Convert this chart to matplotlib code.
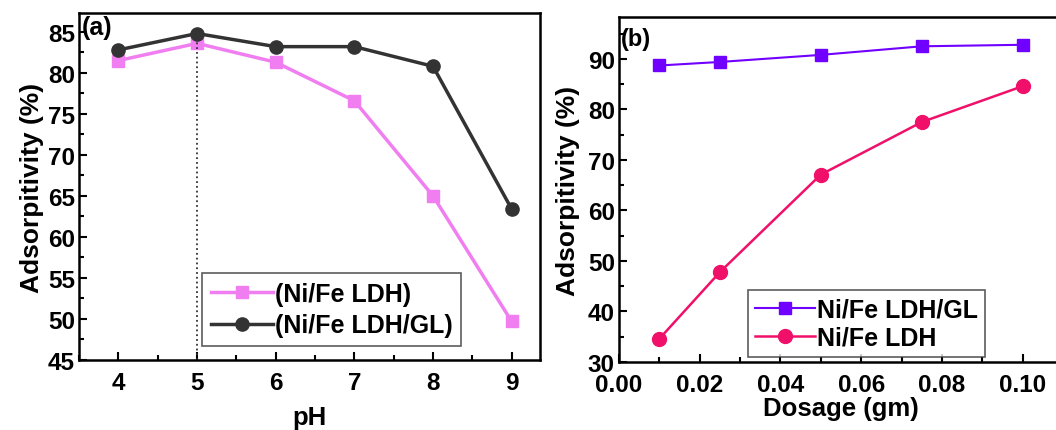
import matplotlib
matplotlib.use("Agg")
import matplotlib.pyplot as plt
from matplotlib.ticker import MultipleLocator, FormatStrFormatter

plt.rcParams['font.family'] = ['Liberation Sans', 'DejaVu Sans']
plt.rcParams['font.weight'] = 'bold'

# Panel (a)
ph = [4, 5, 6, 7, 8, 9]
ldh_ph = [81.5, 83.6, 81.3, 76.6, 65.0, 49.7]
ldh_gl_ph = [82.8, 84.8, 83.2, 83.2, 80.8, 63.4]

# Panel (b)
dosage = [0.01, 0.025, 0.05, 0.075, 0.10]
ldh_gl_dose = [88.7, 89.4, 90.8, 92.5, 92.8]
ldh_dose = [34.6, 47.8, 67.1, 77.5, 84.6]

W, H = 1056, 431
fig = plt.figure(figsize=(W / 100, H / 100), dpi=100)

def box(l, t, r, b):
    return [l / W, 1 - b / H, (r - l) / W, (b - t) / H]

ax1 = fig.add_axes(box(79, 14, 540, 361))
ax2 = fig.add_axes(box(619, 18, 1063, 363))

fs_tick = 17.5
fs_lab = 18.5
fs_ylab = 19
fs_leg = 18
for ax in (ax1, ax2):
    for s in ax.spines.values():
        s.set_linewidth(1.8)
    ax.tick_params(which='both', direction='in', labelsize=fs_tick, width=1.5)
    ax.tick_params(which='major', length=6)
    ax.tick_params(which='minor', length=3.5)
    ax.tick_params(axis='x', which='both', top=False)
    ax.tick_params(axis='y', which='both', right=False, pad=3)

# ---- (a)
ax1.plot(ph, ldh_ph, color='#f07ef0', marker='s', markersize=9, linewidth=2.5,
         label='(Ni/Fe LDH)')
ax1.plot(ph, ldh_gl_ph, color='#333333', marker='o', markersize=9.5, linewidth=2.5,
         label='(Ni/Fe LDH/GL)')
ax1.plot([ph[1], ph[1]], [45, ldh_gl_ph[1]], color='#333333', linestyle=':', linewidth=1.3)
ax1.set_xlim(3.5, 9.36)
ax1.set_ylim(45, 87.3)
ax1.xaxis.set_major_locator(MultipleLocator(1))
ax1.xaxis.set_minor_locator(MultipleLocator(0.5))
ax1.yaxis.set_major_locator(MultipleLocator(5))
ax1.yaxis.set_minor_locator(MultipleLocator(2.5))
ax1.tick_params(axis='x', pad=8)
ax1.set_xlabel('pH', fontsize=fs_lab, fontweight='bold', labelpad=8)
ax1.set_ylabel('Adsorpitivity (%)', fontsize=fs_ylab, fontweight='bold', labelpad=3)
ax1.text(0.005, 0.995, '(a)', transform=ax1.transAxes, fontsize=18,
         fontweight='bold', va='top', ha='left')
leg1 = ax1.legend(loc='lower left', bbox_to_anchor=(0.267, 0.04), fontsize=fs_leg,
                  frameon=True, fancybox=False, edgecolor='#333333',
                  handlelength=2.5, handletextpad=0.05, borderpad=0.35,
                  labelspacing=0.3, borderaxespad=0)
leg1.get_frame().set_linewidth(1.2)

# ---- (b)
ax2.plot(dosage, ldh_gl_dose, color='#7000ff', marker='s', markersize=8, linewidth=1.5,
         label='Ni/Fe LDH/GL')
ax2.plot(dosage, ldh_dose, color='#f0106a', marker='o', markersize=10, linewidth=1.8,
         label='Ni/Fe LDH')
ax2.set_xlim(0, 0.11)
ax2.set_ylim(30, 98.3)
ax2.xaxis.set_major_locator(MultipleLocator(0.02))
ax2.xaxis.set_minor_locator(MultipleLocator(0.01))
ax2.yaxis.set_major_locator(MultipleLocator(10))
ax2.yaxis.set_minor_locator(MultipleLocator(5))
ax2.xaxis.set_major_formatter(FormatStrFormatter('%.2f'))
ax2.tick_params(axis='x', pad=8)
ax2.set_xlabel('Dosage (gm)', fontsize=fs_lab, fontweight='bold', labelpad=0)
ax2.set_ylabel('Adsorpitivity (%)', fontsize=fs_ylab, fontweight='bold', labelpad=6)
ax2.text(0.005, 0.97, '(b)', transform=ax2.transAxes, fontsize=17,
         fontweight='bold', va='top', ha='left')
leg2 = ax2.legend(loc='lower left', bbox_to_anchor=(0.29, 0.015), fontsize=fs_leg,
                  frameon=True, fancybox=False, edgecolor='#333333',
                  handlelength=2.4, handletextpad=0.05, borderpad=0.3,
                  labelspacing=0.15, borderaxespad=0)
leg2.get_frame().set_linewidth(1.2)

fig.savefig('out.png', dpi=100)
